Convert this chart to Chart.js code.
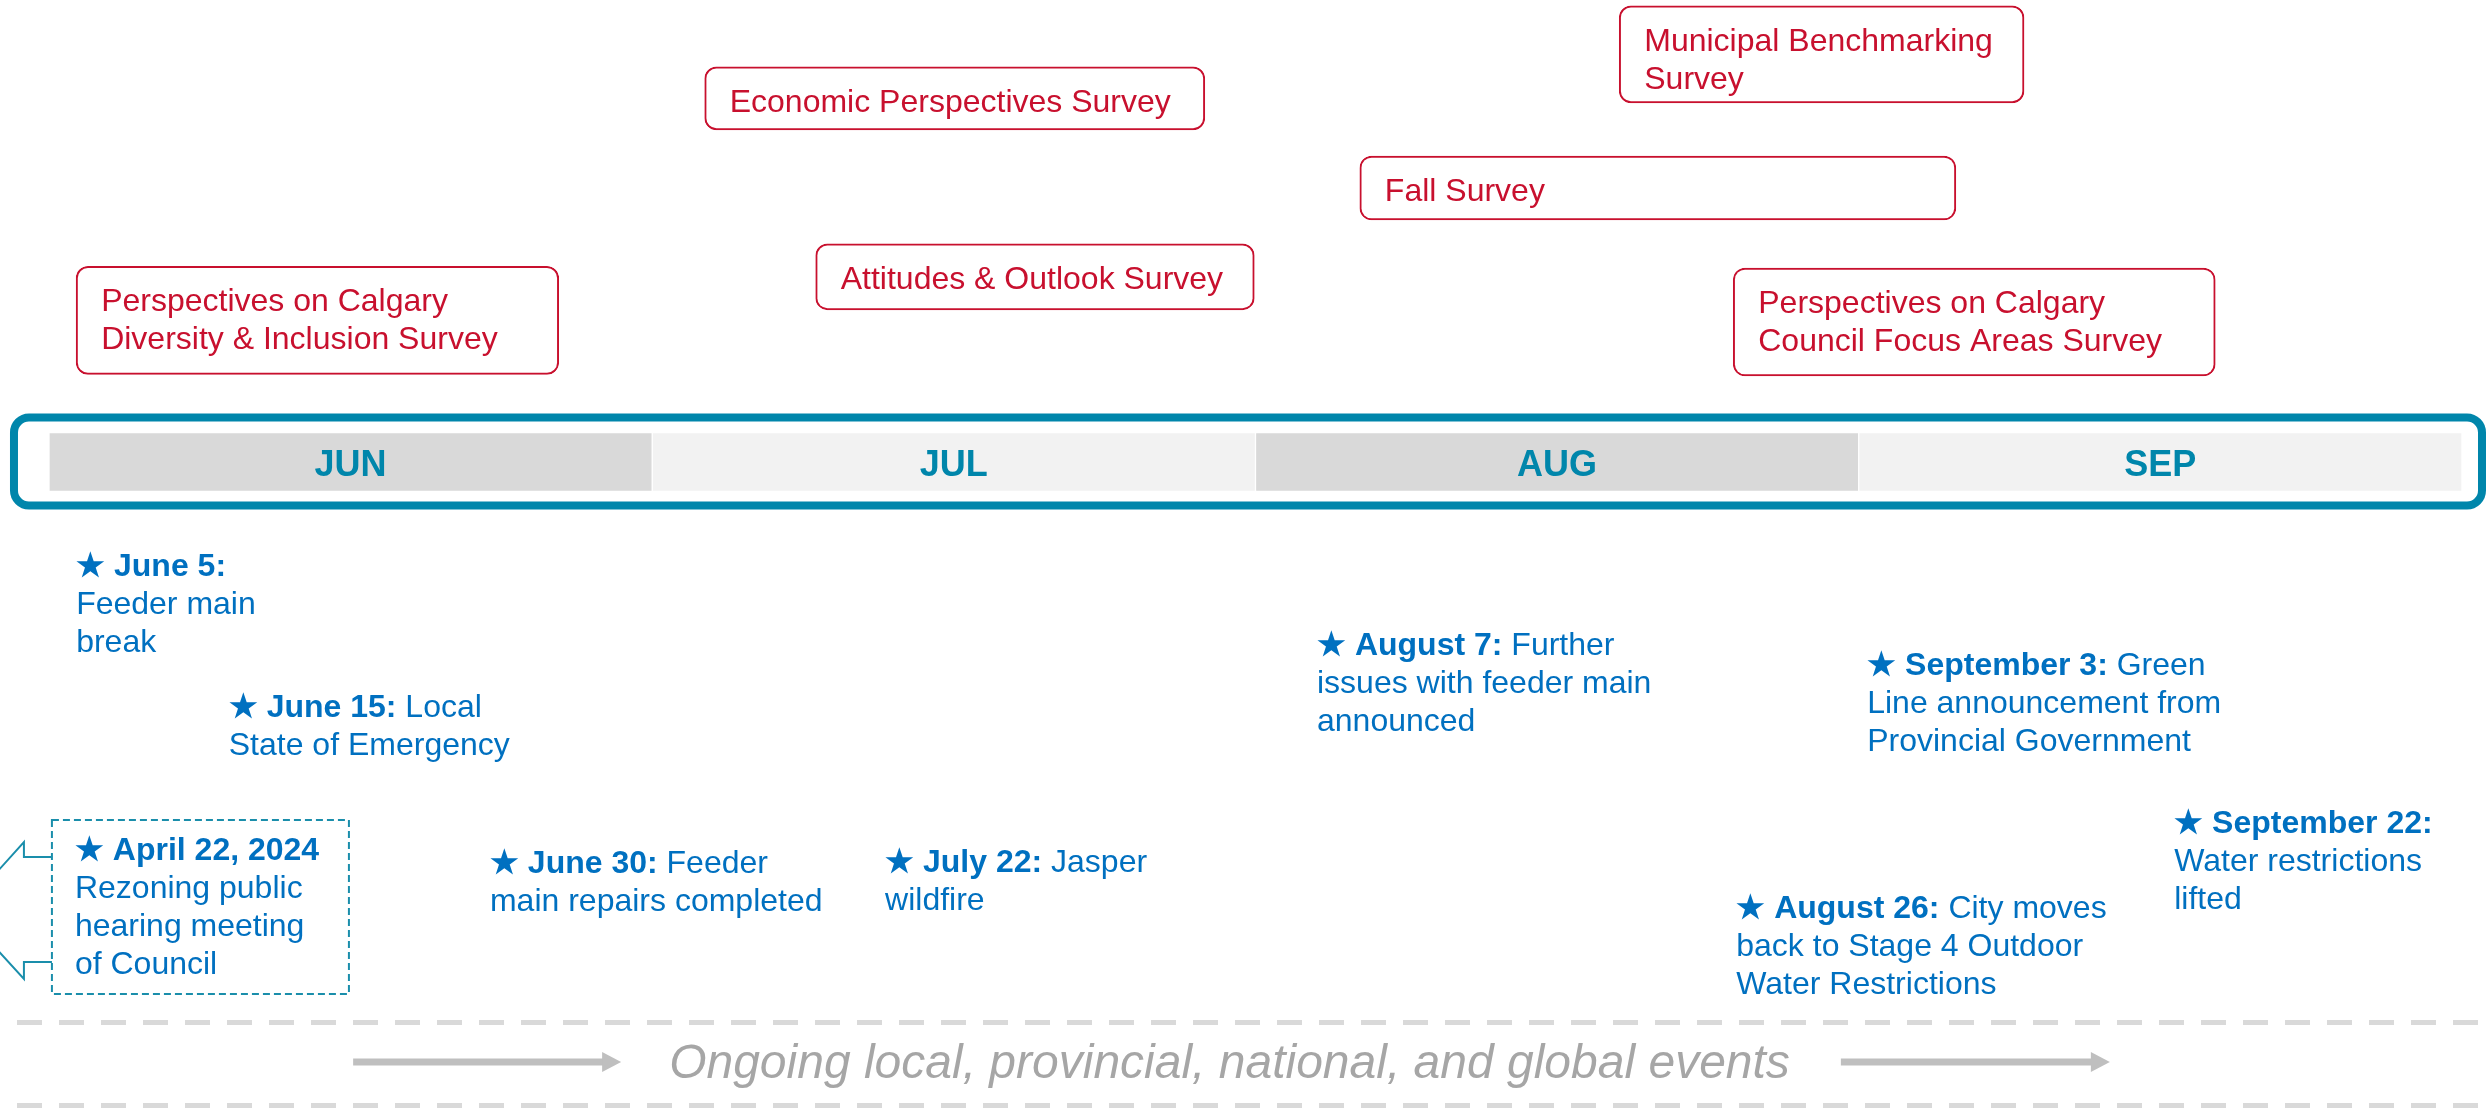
<!DOCTYPE html>
<html>
<head>
<meta charset="utf-8">
<title>Timeline</title>
<script src="https://cdn.jsdelivr.net/npm/chart.js@4.4.1/dist/chart.umd.min.js"></script>
<style>
  html, body { margin: 0; padding: 0; background: #ffffff; }
  canvas { display: block; }
</style>
</head>
<body>
<canvas id="timelineChart" width="2489" height="1108" style="width:2489px;height:1108px"></canvas>
<script>
// timeline data (x = months from start of June, y = vertical tier)
const months = ['JUN', 'JUL', 'AUG', 'SEP'];

const surveyNames = [
    ['Perspectives on Calgary', 'Diversity & Inclusion Survey'],
    ['Economic Perspectives Survey'],
    ['Attitudes & Outlook Survey'],
    ['Fall Survey'],
    ['Municipal Benchmarking', 'Survey'],
    ['Perspectives on Calgary', 'Council Focus Areas Survey']
];
const surveyStart = [0.045, 1.087, 1.271, 2.173, 2.603, 2.792];
const surveyEnd = [0.845, 1.916, 1.998, 3.161, 3.274, 3.591];
const surveyRow = [3.54, 9.09, 4.63, 6.85, 10.19, 3.5];

const eventDates = ['June 5:', 'June 15:', 'April 22, 2024', 'June 30:', 'July 22:',
    'August 7:', 'September 3:', 'August 26:', 'September 22:'];
const eventLines = [
    ['', 'Feeder main', 'break'],
    [' Local', 'State of Emergency'],
    ['', 'Rezoning public', 'hearing meeting', 'of Council'],
    [' Feeder', 'main repairs completed'],
    [' Jasper', 'wildfire'],
    [' Further', 'issues with feeder main', 'announced'],
    [' Green', 'Line announcement from', 'Provincial Government'],
    [' City moves', 'back to Stage 4 Outdoor', 'Water Restrictions'],
    ['', 'Water restrictions', 'lifted']
];
const eventAt = [0.045, 0.298, 0.043, 0.731, 1.386, 2.102, 3.014, 2.797, 3.523];
const eventRow = [-2.85, -6.375, -9.95, -10.275, -10.25, -4.825, -5.325, -11.4, -9.275];

const ongoingLabel = 'Ongoing local, provincial, national, and global events';

// styles
const TEAL = '#0086ab';
const RED = '#c8102e';
const BLUE = '#0070c0';
const FONT = '"Liberation Sans", Arial, sans-serif';
const boxHeights = [108, 63, 66, 64, 97, 108];
const boxedEvent = 2;
const LINE = 38;

const datasets = [{
    label: 'Months',
    data: months.map((m, i) => ({ x: [i, i + 1], y: 0 })),
    backgroundColor: months.map((m, i) => i % 2 ? '#f2f2f2' : '#d9d9d9'),
    borderColor: '#ffffff',
    borderWidth: 1,
    borderSkipped: false,
    barThickness: 59,
    grouped: false
}];

surveyNames.forEach((name, i) => {
    datasets.push({
        label: name.join(' '),
        data: [{ x: [surveyStart[i], surveyEnd[i]], y: surveyRow[i] }],
        backgroundColor: '#ffffff',
        borderColor: RED,
        borderWidth: 2,
        borderRadius: 12,
        borderSkipped: false,
        barThickness: boxHeights[i],
        grouped: false
    });
});

function drawArrow(ctx, x0, x1, yc) {
    ctx.fillStyle = '#bfbfbf';
    ctx.fillRect(x0, yc - 3.5, x1 - x0 - 18, 7);
    ctx.beginPath();
    ctx.moveTo(x1 - 19, yc - 10);
    ctx.lineTo(x1, yc);
    ctx.lineTo(x1 - 19, yc + 10);
    ctx.closePath();
    ctx.fill();
}

const timelinePlugin = {
    id: 'timeline',
    afterDatasetsDraw(chart) {
        const ctx = chart.ctx;
        const xs = chart.scales.x;
        const ys = chart.scales.y;
        const band = chart.getDatasetMeta(0).data;
        const first = band[0].getProps(['x', 'y', 'base', 'height'], true);

        ctx.save();

        // frame around month band
        const top = first.y - first.height / 2 - 19;
        const bottom = first.y + first.height / 2 + 18;
        const left = first.base - 39;
        const right = chart.width - 3;
        ctx.lineWidth = 8;
        ctx.strokeStyle = TEAL;
        ctx.beginPath();
        ctx.roundRect(left + 4, top + 4, right - left - 8, bottom - top - 8, 15);
        ctx.stroke();

        // month labels
        ctx.font = 'bold 36px ' + FONT;
        ctx.fillStyle = TEAL;
        ctx.textAlign = 'center';
        ctx.textBaseline = 'alphabetic';
        band.forEach((bar, i) => {
            const p = bar.getProps(['x', 'y', 'base'], true);
            ctx.fillText(months[i], (p.x + p.base) / 2, p.y + 14);
        });

        // survey labels
        ctx.font = '32px ' + FONT;
        ctx.fillStyle = RED;
        ctx.textAlign = 'left';
        surveyNames.forEach((lines, i) => {
            const p = chart.getDatasetMeta(i + 1).data[0].getProps(['x', 'y', 'base', 'height'], true);
            const boxTop = p.y - p.height / 2;
            lines.forEach((t, j) => ctx.fillText(t, Math.min(p.base, p.x) + 25, boxTop + 45 + j * LINE));
        });

        // events
        ctx.fillStyle = BLUE;
        eventDates.forEach((d, i) => {
            const px = xs.getPixelForValue(eventAt[i]);
            const py = ys.getPixelForValue(eventRow[i]);
            const lines = eventLines[i];
            ctx.font = 'bold 32px ' + FONT;
            const head = '\u2605 ' + d;
            ctx.fillText(head, px, py);
            const w = ctx.measureText(head).width;
            ctx.font = '32px ' + FONT;
            ctx.fillText(lines[0], px + w, py);
            for (let j = 1; j < lines.length; j++) {
                ctx.fillText(lines[j], px, py + j * LINE);
            }

            if (i === boxedEvent) {
                const bl = px - 23, bt = py - 40, br = px + 274, bb = py + 134;
                ctx.save();
                ctx.strokeStyle = '#1a8eab';
                ctx.lineWidth = 2;
                ctx.setLineDash([7, 4]);
                ctx.strokeRect(bl, bt, br - bl, bb - bt);
                ctx.setLineDash([]);
                ctx.beginPath();
                ctx.moveTo(bl, bt + 37);
                ctx.lineTo(bl - 28, bt + 37);
                ctx.lineTo(bl - 28, bt + 22);
                ctx.lineTo(bl - 90, bt + 91);
                ctx.lineTo(bl - 28, bt + 159);
                ctx.lineTo(bl - 28, bt + 142);
                ctx.lineTo(bl, bt + 142);
                ctx.stroke();
                ctx.restore();
                ctx.fillStyle = BLUE;
            }
        });

        // ongoing events strip
        const H = chart.height;
        ctx.strokeStyle = '#d9d9d9';
        ctx.lineWidth = 5;
        ctx.setLineDash([25, 17]);
        [H - 85.5, H - 2.5].forEach(yy => {
            ctx.beginPath();
            ctx.moveTo(17, yy);
            ctx.lineTo(chart.width, yy);
            ctx.stroke();
        });
        ctx.setLineDash([]);

        ctx.font = 'italic 48px ' + FONT;
        ctx.fillStyle = '#a6a6a6';
        const tw = ctx.measureText(ongoingLabel).width;
        const tx = chart.width / 2 - 15 - tw / 2;
        ctx.fillText(ongoingLabel, tx, H - 30);
        drawArrow(ctx, tx - 316, tx - 48, H - 46);
        drawArrow(ctx, tx + tw + 51, tx + tw + 320, H - 46);

        ctx.restore();
    }
};

const ctx = document.getElementById('timelineChart').getContext('2d');
new Chart(ctx, {
    type: 'bar',
    data: { datasets: datasets },
    options: {
        indexAxis: 'y',
        responsive: false,
        maintainAspectRatio: false,
        animation: false,
        devicePixelRatio: 1,
        layout: { padding: 0 },
        plugins: {
            legend: { display: false },
            tooltip: { enabled: false }
        },
        scales: {
            x: { type: 'linear', min: -0.0812, max: 4.0448, offset: false, display: false },
            y: { type: 'linear', min: -16.15, max: 11.55, offset: false, display: false }
        }
    },
    plugins: [timelinePlugin]
});
</script>
</body>
</html>
